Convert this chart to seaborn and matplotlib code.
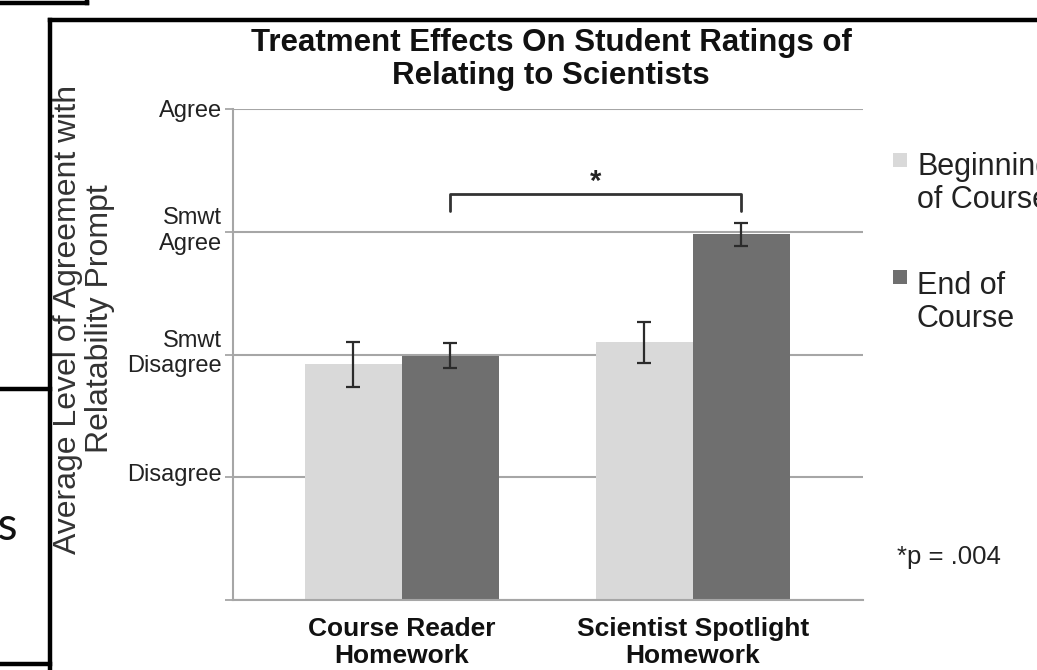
import matplotlib
matplotlib.use("Agg")
import matplotlib.pyplot as plt
import matplotlib.transforms as mtransforms
import seaborn as sns
import pandas as pd
from matplotlib.lines import Line2D
from matplotlib.patches import Rectangle

# ---- data ----
categories = ["Course Reader\nHomework", "Scientist Spotlight\nHomework"]
times = ["Beginning\nof Course", "End of\nCourse"]
begin_means = [1.92, 2.10]
end_means = [1.99, 2.98]
begin_err = [0.185, 0.167]
end_err = [0.10, 0.095]
y_tick_values = [0, 1, 2, 3, 4]
y_tick_labels = ["", "Disagree", "Smwt\nDisagree", "Smwt\nAgree", "Agree"]
bar_colors = ["#d9d9d9", "#6f6f6f"]
title = "Treatment Effects On Student Ratings of\nRelating to Scientists"
ylabel = "Average Level of Agreement with\nRelatability Prompt"
p_note = "*p = .004"
sig_mark = "*"
bracket_y = 3.31
bracket_drop = 0.14

W, H = 1037, 670
sns.set_theme(style="white")
plt.rcParams['font.family'] = ['Liberation Sans', 'DejaVu Sans']

df = pd.DataFrame({
    "category": categories * 2,
    "time": [times[0]] * 2 + [times[1]] * 2,
    "value": begin_means + end_means,
})

fig = plt.figure(figsize=(W / 100, H / 100), dpi=100)
fig.patch.set_facecolor("white")


def fx(x):
    return x / W


def fy(y):
    return 1 - y / H


ax = fig.add_axes([fx(232.7), fy(600), (863 - 232.7) / W, (600 - 109) / H])
sns.barplot(data=df, x="category", y="value", hue="time", hue_order=times,
            order=categories, palette=dict(zip(times, bar_colors)),
            width=0.665, gap=0, errorbar=None, legend=False, ax=ax,
            saturation=1, linewidth=0)

errs = [begin_err, end_err]
bar_containers = list(ax.containers)
end_centers = []
for i, cont in enumerate(bar_containers):
    xs = [b.get_x() + b.get_width() / 2 for b in cont]
    hs = [b.get_height() for b in cont]
    ax.errorbar(xs, hs, yerr=errs[i], fmt='none', ecolor='#2b2b2b',
                elinewidth=1.6, capsize=4.8, capthick=1.6, zorder=5)
    if i == 1:
        end_centers = xs

# significance bracket between the two End-of-Course bars
x0, x1 = end_centers
ax.plot([x0, x0, x1, x1],
        [bracket_y - bracket_drop, bracket_y, bracket_y, bracket_y - bracket_drop],
        color='#333333', lw=2.0, solid_joinstyle='round', clip_on=False)
ax.text((x0 + x1) / 2, bracket_y - 0.015, sig_mark, ha='center', va='bottom',
        fontsize=21, color='#222222', fontweight='bold')

ax.set_xlim(-0.581, 1.585)
ax.set_ylim(0, 4)
ax.set_yticks(y_tick_values)
ax.set_yticklabels(y_tick_labels, fontsize=17, color='#222222')
ax.yaxis.grid(True, color='#a6a6a6', lw=1.5)
ax.set_axisbelow(True)
ax.tick_params(axis='y', length=6, width=1.3, color='#a6a6a6', pad=2, left=True)
ax.tick_params(axis='x', length=0, pad=12)
ylabels = ax.get_yticklabels()
for k, lab in enumerate(ylabels):
    shift = 0 if k == len(ylabels) - 1 else 5
    up = mtransforms.ScaledTranslation(0, shift / 100, fig.dpi_scale_trans)
    lab.set_transform(lab.get_transform() + up)
for lab in ax.get_xticklabels():
    lab.set_fontsize(19)
    lab.set_fontweight('bold')
    lab.set_color('#111111')
    lab.set_linespacing(1.2)
ax.set_xlabel("")
ax.set_ylabel("")
for s in ['top', 'right']:
    ax.spines[s].set_visible(False)
for s in ['left', 'bottom']:
    ax.spines[s].set_color('#a6a6a6')
    ax.spines[s].set_linewidth(1.5)

# title and axis title (va='baseline' -> baseline of the last line)
fig.text(fx(551), fy(84), title, ha='center', va='baseline', fontsize=22.5,
         fontweight='bold', color='#111111', linespacing=1.13)
fig.text(fx(84), fy(319), ylabel, ha='center', va='center', rotation=90,
         fontsize=23, color='#333333', linespacing=1.1, multialignment='center')

# legend
leg_mark_top = [153, 270]
leg_base = [208, 327]
for lab, col, yt, yb in zip(times, bar_colors, leg_mark_top, leg_base):
    fig.add_artist(Rectangle((fx(893), fy(yt + 14)), 14 / W, 14 / H,
                             transform=fig.transFigure, facecolor=col,
                             edgecolor='none'))
    fig.text(fx(917), fy(yb), lab, ha='left', va='baseline', fontsize=22,
             color='#222222', linespacing=1.15)

fig.text(fx(897), fy(557), p_note, ha='left', va='center', fontsize=18.5,
         color='#222222')

# screenshot frame lines
def fl(xs, ys, lw=3.2):
    fig.add_artist(Line2D([fx(x) for x in xs], [fy(y) for y in ys],
                          color='black', lw=lw, solid_capstyle='projecting'))


fl([50, 1045], [20, 20])
fl([50, 50], [20, 680])
fl([-5, 87], [3, 3])
fl([87, 87], [-5, 3])
fl([-5, 50], [389, 389])
fl([-5, 50], [664, 664])
fig.text(fx(18.5), fy(540), "ns", ha='right', va='baseline', fontsize=33,
         family=['Lato', 'DejaVu Sans'], color='#111111')

fig.savefig("out.png", dpi=100, facecolor="white")
